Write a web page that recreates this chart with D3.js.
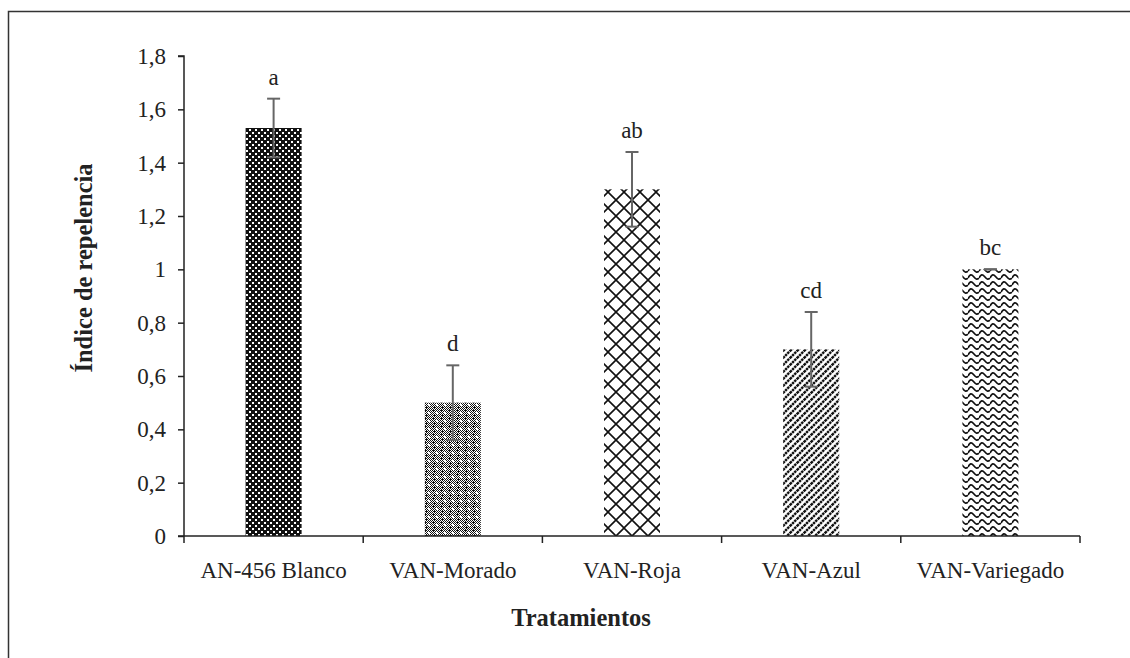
<!DOCTYPE html>
<html>
<head>
<meta charset="utf-8">
<script src="https://cdn.jsdelivr.net/npm/d3@7"></script>
<style>
  html, body { margin: 0; padding: 0; background: #fff; }
  svg { display: block; }
  text { font-family: "Liberation Serif", "Times New Roman", serif; fill: #222; }
</style>
</head>
<body>
<svg id="chart" width="1130" height="658"></svg>
<script>
// Repellency index per treatment, with standard error and letters of significance
const categories = ["AN-456 Blanco", "VAN-Morado", "VAN-Roja", "VAN-Azul", "VAN-Variegado"];
const means = [1.53, 0.50, 1.30, 0.70, 1.00];
const errors = [0.11, 0.14, 0.14, 0.14, 0.00];
const letters = ["a", "d", "ab", "cd", "bc"];
const yTicks = [0, 0.2, 0.4, 0.6, 0.8, 1, 1.2, 1.4, 1.6, 1.8];
const fills = ["pBlanco", "pMorado", "pRoja", "pAzul", "pVariegado"];

const svg = d3.select("#chart");
const margin = { left: 184, right: 50, top: 56, bottom: 122 };
const W = 1130, H = 658;

// outer frame
svg.append("rect")
  .attr("x", 8.5).attr("y", 11.5)
  .attr("width", 1200).attr("height", 800)
  .attr("fill", "none").attr("stroke", "#333").attr("stroke-width", 1.5);

// fill patterns
const defs = svg.append("defs");

let p = defs.append("pattern").attr("id", "pBlanco")
  .attr("patternUnits", "userSpaceOnUse").attr("width", 6).attr("height", 6);
p.append("rect").attr("width", 6).attr("height", 6).attr("fill", "#111");
p.append("rect").attr("x", 0).attr("y", 0).attr("width", 2).attr("height", 2).attr("fill", "#fff");
p.append("rect").attr("x", 3).attr("y", 3).attr("width", 2).attr("height", 2).attr("fill", "#fff");

// fine 1px checkerboard with periodic white spots
p = defs.append("pattern").attr("id", "pMorado")
  .attr("patternUnits", "userSpaceOnUse").attr("width", 8).attr("height", 8);
p.append("rect").attr("width", 8).attr("height", 8).attr("fill", "#fff");
for (let r = 0; r < 8; r++) {
  for (let c = 0; c < 8; c++) {
    if ((r + c) % 2 === 0) {
      p.append("rect").attr("x", c).attr("y", r).attr("width", 1).attr("height", 1).attr("fill", "#111");
    }
  }
}
p.append("rect").attr("x", 4).attr("y", 4).attr("width", 2).attr("height", 2).attr("fill", "#fff");
p.append("rect").attr("x", 0).attr("y", 2).attr("width", 2).attr("height", 1).attr("fill", "#111");
p.append("rect").attr("x", 2).attr("y", 6).attr("width", 1).attr("height", 2).attr("fill", "#111");

p = defs.append("pattern").attr("id", "pRoja")
  .attr("patternUnits", "userSpaceOnUse").attr("width", 16).attr("height", 16);
p.append("rect").attr("width", 16).attr("height", 16).attr("fill", "#fff");
p.append("path").attr("d", "M0,0L16,16M16,0L0,16")
  .attr("stroke", "#111").attr("stroke-width", 1.6).attr("fill", "none");

p = defs.append("pattern").attr("id", "pAzul")
  .attr("patternUnits", "userSpaceOnUse").attr("width", 7).attr("height", 7);
p.append("rect").attr("width", 7).attr("height", 7).attr("fill", "#fff");
p.append("path").attr("d", "M-1,8L8,-1M-1,1L1,-1M6,8L8,6")
  .attr("stroke", "#111").attr("stroke-width", 2.4).attr("fill", "none")
  .attr("stroke-dasharray", "2.4,0.7");

p = defs.append("pattern").attr("id", "pVariegado")
  .attr("patternUnits", "userSpaceOnUse").attr("width", 11).attr("height", 7);
p.append("rect").attr("width", 11).attr("height", 7).attr("fill", "#fff");
p.append("path").attr("d", "M0,5 C2,1 3.5,1 5.5,3.5 S9,7 11,5")
  .attr("stroke", "#111").attr("stroke-width", 1.7).attr("fill", "none");

// scales
const x = d3.scaleBand()
  .domain(categories)
  .range([margin.left, W - margin.right])
  .paddingInner(0.6875).paddingOuter(0.34375);
const y = d3.scaleLinear().domain([0, 1.8]).range([H - margin.bottom, margin.top]);

// bars
svg.append("g").selectAll("rect")
  .data(categories)
  .join("rect")
  .attr("x", d => x(d))
  .attr("width", x.bandwidth())
  .attr("y", (d, i) => y(means[i]))
  .attr("height", (d, i) => y(0) - y(means[i]))
  .attr("fill", (d, i) => `url(#${fills[i]})`);

// error bars
const eg = svg.append("g").attr("stroke", "#666").attr("stroke-width", 2).attr("fill", "none");
categories.forEach((c, i) => {
  const cx = x(c) + x.bandwidth() / 2;
  const lo = y(means[i] - errors[i]), hi = y(means[i] + errors[i]);
  eg.append("line").attr("x1", cx).attr("x2", cx).attr("y1", lo).attr("y2", hi);
  eg.append("line").attr("x1", cx - 6.5).attr("x2", cx + 6.5).attr("y1", hi).attr("y2", hi);
  eg.append("line").attr("x1", cx - 6.5).attr("x2", cx + 6.5).attr("y1", lo).attr("y2", lo);
});

// significance letters
svg.append("g").selectAll("text")
  .data(categories)
  .join("text")
  .attr("x", d => x(d) + x.bandwidth() / 2)
  .attr("y", (d, i) => y(means[i] + errors[i]) - 14)
  .attr("text-anchor", "middle")
  .attr("font-size", 23)
  .text((d, i) => letters[i]);

// y axis
const yAxis = svg.append("g")
  .attr("transform", `translate(${margin.left},0)`)
  .call(d3.axisLeft(y).tickValues(yTicks).tickSize(6).tickPadding(12)
    .tickFormat(d => String(d).replace(".", ",")));
yAxis.selectAll("text").attr("font-size", 23).attr("font-family", "Liberation Serif").attr("fill", "#222");
yAxis.selectAll("line, path").attr("stroke", "#222").attr("stroke-width", 1.5);
yAxis.select(".domain").attr("d", `M-6,${y(1.8)}H0V${y(0)}`);

// x axis with ticks at category boundaries
const xAxisG = svg.append("g").attr("transform", `translate(0,${y(0)})`);
xAxisG.append("line")
  .attr("x1", margin.left - 6).attr("x2", W - margin.right)
  .attr("stroke", "#222").attr("stroke-width", 1.5);
const step = x.step();
const bounds = d3.range(categories.length + 1).map(k => margin.left + k * step);
xAxisG.selectAll(".bt").data(bounds).join("line")
  .attr("x1", d => d).attr("x2", d => d).attr("y1", 0).attr("y2", 7)
  .attr("stroke", "#222").attr("stroke-width", 1.5);
xAxisG.selectAll(".cl").data(categories).join("text")
  .attr("x", d => x(d) + x.bandwidth() / 2)
  .attr("y", 42)
  .attr("text-anchor", "middle")
  .attr("font-size", 23)
  .text(d => d);

// axis titles
svg.append("text")
  .attr("x", 581).attr("y", 626)
  .attr("text-anchor", "middle")
  .attr("font-size", 24.5).attr("font-weight", "bold")
  .text("Tratamientos");
svg.append("text")
  .attr("transform", "translate(92,268) rotate(-90)")
  .attr("text-anchor", "middle")
  .attr("font-size", 24.5).attr("font-weight", "bold")
  .text("Índice de repelencia");
</script>
</body>
</html>
